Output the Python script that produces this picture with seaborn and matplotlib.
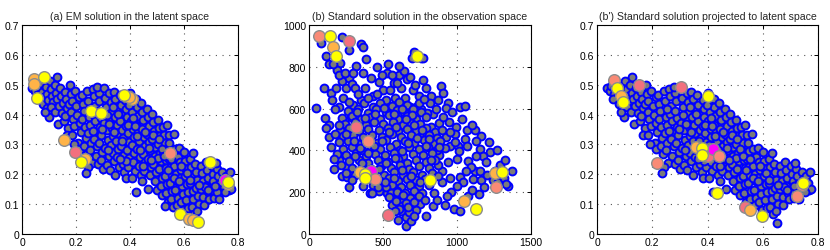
import matplotlib
matplotlib.use("Agg")
import matplotlib.pyplot as plt
import seaborn as sns
import pandas as pd

# ---------------- data ----------------
titles = ["(a) EM solution in the latent space",
          "(b) Standard solution in the observation space",
          "(b') Standard solution projected to latent space"]

latent_xticks = [0, 0.2, 0.4, 0.6, 0.8]
latent_xticklabels = ["0", "0.2", "0.4", "0.6", "0.8"]
latent_yticks = [0, 0.1, 0.2, 0.3, 0.4, 0.5, 0.6, 0.7]
latent_yticklabels = ["0", "0.1", "0.2", "0.3", "0.4", "0.5", "0.6", "0.7"]
obs_xticks = [0, 500, 1000, 1500]
obs_xticklabels = ["0", "500", "1000", "1500"]
obs_yticks = [0, 200, 400, 600, 800, 1000]
obs_yticklabels = ["0", "200", "400", "600", "800", "1000"]

# latent-space samples (shared by panels a and b')
latent_points = [
    (0.038, 0.488), (0.047, 0.478), (0.052, 0.497), (0.061, 0.468), (0.066, 0.489), (0.057, 0.451),
    (0.071, 0.505), (0.075, 0.476), (0.083, 0.459), (0.079, 0.437), (0.088, 0.491), (0.093, 0.470),
    (0.091, 0.423), (0.097, 0.448), (0.099, 0.391), (0.086, 0.409),
    (0.103, 0.514), (0.108, 0.485), (0.112, 0.462), (0.116, 0.441), (0.109, 0.426), (0.121, 0.498),
    (0.127, 0.471), (0.131, 0.452), (0.124, 0.410), (0.133, 0.367), (0.137, 0.428), (0.128, 0.527),
    (0.141, 0.489), (0.146, 0.463), (0.152, 0.440), (0.148, 0.405), (0.155, 0.380), (0.159, 0.476),
    (0.163, 0.452), (0.168, 0.421), (0.161, 0.395), (0.172, 0.354), (0.176, 0.498), (0.174, 0.437),
    (0.166, 0.332),
    (0.181, 0.468), (0.186, 0.445), (0.183, 0.410), (0.189, 0.386), (0.194, 0.361), (0.185, 0.333),
    (0.197, 0.478), (0.201, 0.429), (0.205, 0.398), (0.209, 0.305), (0.212, 0.458), (0.215, 0.372),
    (0.218, 0.342), (0.213, 0.285), (0.192, 0.300),
    (0.222, 0.466), (0.226, 0.437), (0.229, 0.413), (0.224, 0.384), (0.233, 0.357), (0.236, 0.322),
    (0.231, 0.296), (0.239, 0.268), (0.241, 0.478), (0.245, 0.445), (0.248, 0.393), (0.252, 0.365),
    (0.246, 0.338), (0.255, 0.304), (0.251, 0.281), (0.258, 0.238), (0.243, 0.226), (0.236, 0.205),
    (0.262, 0.486), (0.266, 0.462), (0.269, 0.430), (0.264, 0.401), (0.272, 0.378), (0.275, 0.345),
    (0.268, 0.318), (0.278, 0.294), (0.273, 0.262), (0.281, 0.233), (0.284, 0.471), (0.287, 0.447),
    (0.291, 0.389), (0.289, 0.357), (0.294, 0.331), (0.286, 0.306), (0.297, 0.276), (0.293, 0.248),
    (0.299, 0.218), (0.278, 0.491),
    (0.303, 0.489), (0.307, 0.456), (0.311, 0.427), (0.304, 0.371), (0.314, 0.348), (0.318, 0.315),
    (0.309, 0.289), (0.321, 0.262), (0.316, 0.231), (0.324, 0.473), (0.328, 0.441), (0.332, 0.408),
    (0.326, 0.381), (0.335, 0.356), (0.338, 0.328), (0.331, 0.298), (0.336, 0.272), (0.339, 0.244),
    (0.327, 0.213),
    (0.342, 0.477), (0.346, 0.452), (0.349, 0.421), (0.344, 0.393), (0.352, 0.366), (0.355, 0.339),
    (0.348, 0.311), (0.357, 0.284), (0.353, 0.258), (0.359, 0.226), (0.346, 0.199), (0.362, 0.466),
    (0.366, 0.431), (0.369, 0.403), (0.364, 0.378), (0.372, 0.349), (0.375, 0.323), (0.368, 0.296),
    (0.377, 0.266), (0.373, 0.236), (0.379, 0.209),
    (0.383, 0.448), (0.386, 0.418), (0.389, 0.391), (0.384, 0.362), (0.392, 0.338), (0.395, 0.309),
    (0.388, 0.283), (0.397, 0.253), (0.393, 0.224), (0.384, 0.186), (0.401, 0.471), (0.405, 0.437),
    (0.408, 0.408), (0.403, 0.378), (0.411, 0.352), (0.414, 0.326), (0.406, 0.297), (0.416, 0.272),
    (0.411, 0.241), (0.418, 0.212), (0.407, 0.188),
    (0.422, 0.453), (0.425, 0.424), (0.428, 0.396), (0.423, 0.366), (0.431, 0.341), (0.434, 0.311),
    (0.427, 0.286), (0.436, 0.258), (0.432, 0.229), (0.439, 0.198), (0.421, 0.139), (0.442, 0.438),
    (0.446, 0.409), (0.449, 0.381), (0.444, 0.352), (0.452, 0.325), (0.455, 0.296), (0.448, 0.268),
    (0.457, 0.241), (0.453, 0.212), (0.445, 0.176),
    (0.462, 0.418), (0.466, 0.391), (0.469, 0.362), (0.464, 0.336), (0.472, 0.308), (0.475, 0.281),
    (0.468, 0.252), (0.477, 0.226), (0.473, 0.196), (0.466, 0.152), (0.481, 0.402), (0.485, 0.374),
    (0.488, 0.346), (0.483, 0.318), (0.491, 0.291), (0.494, 0.262), (0.487, 0.236), (0.496, 0.207),
    (0.492, 0.178), (0.499, 0.148),
    (0.503, 0.383), (0.506, 0.356), (0.509, 0.327), (0.504, 0.301), (0.512, 0.272), (0.515, 0.246),
    (0.508, 0.217), (0.517, 0.188), (0.513, 0.161), (0.519, 0.132), (0.522, 0.358), (0.526, 0.331),
    (0.529, 0.304), (0.524, 0.277), (0.532, 0.249), (0.535, 0.222), (0.528, 0.194), (0.537, 0.166),
    (0.533, 0.138), (0.539, 0.108), (0.536, 0.364), (0.531, 0.093),
    (0.543, 0.331), (0.546, 0.306), (0.549, 0.278), (0.544, 0.251), (0.552, 0.226), (0.555, 0.197),
    (0.548, 0.171), (0.557, 0.143), (0.553, 0.116), (0.559, 0.089), (0.562, 0.334), (0.566, 0.284),
    (0.569, 0.256), (0.564, 0.229), (0.572, 0.202), (0.575, 0.176), (0.568, 0.149), (0.577, 0.121),
    (0.573, 0.097), (0.576, 0.258),
    (0.583, 0.288), (0.586, 0.241), (0.589, 0.214), (0.584, 0.188), (0.592, 0.161), (0.595, 0.134),
    (0.588, 0.108), (0.597, 0.082), (0.601, 0.273), (0.605, 0.246), (0.608, 0.219), (0.603, 0.193),
    (0.611, 0.166), (0.614, 0.139), (0.607, 0.113), (0.616, 0.087),
    (0.622, 0.251), (0.626, 0.224), (0.629, 0.198), (0.624, 0.171), (0.632, 0.144), (0.635, 0.118),
    (0.628, 0.092), (0.637, 0.068), (0.634, 0.272), (0.641, 0.234), (0.645, 0.207), (0.648, 0.181),
    (0.643, 0.154), (0.651, 0.127), (0.654, 0.101), (0.647, 0.076), (0.652, 0.036),
    (0.662, 0.228), (0.666, 0.203), (0.669, 0.176), (0.664, 0.151), (0.672, 0.124), (0.675, 0.097),
    (0.681, 0.241), (0.685, 0.214), (0.688, 0.188), (0.683, 0.161), (0.691, 0.136), (0.694, 0.117),
    (0.678, 0.158),
    (0.702, 0.228), (0.706, 0.201), (0.709, 0.176), (0.704, 0.149), (0.712, 0.121), (0.721, 0.219),
    (0.725, 0.193), (0.728, 0.166), (0.723, 0.141), (0.731, 0.118), (0.717, 0.238),
    (0.741, 0.208), (0.745, 0.183), (0.748, 0.158), (0.756, 0.195), (0.762, 0.171), (0.766, 0.149),
    (0.771, 0.208), (0.774, 0.152), (0.752, 0.141),
    (0.297, 0.352), (0.322, 0.368), (0.341, 0.342), (0.357, 0.402), (0.371, 0.312), (0.392, 0.366),
    (0.412, 0.388), (0.427, 0.327), (0.437, 0.283), (0.457, 0.343), (0.471, 0.287), (0.487, 0.331),
    (0.502, 0.256), (0.518, 0.286), (0.541, 0.213), (0.563, 0.188), (0.581, 0.176), (0.612, 0.203),
    (0.386, 0.246), (0.364, 0.251), (0.318, 0.281), (0.262, 0.346), (0.253, 0.418), (0.283, 0.413),
    (0.313, 0.398), (0.337, 0.424), (0.397, 0.431), (0.418, 0.361), (0.447, 0.229), (0.477, 0.248),
    (0.508, 0.318), (0.527, 0.262), (0.553, 0.252), (0.589, 0.229), (0.621, 0.182), (0.657, 0.165),
    (0.688, 0.149), (0.713, 0.162),
]

# observation-space samples (panel b)
obs_points = [
    (83, 912), (225, 944), (354, 909), (366, 896), (270, 880), (113, 853), (388, 837), (135, 812),
    (207, 820), (191, 785), (160, 815), (225, 732), (270, 745), (200, 760), (101, 697), (45, 601),
    (147, 673), (158, 641), (203, 609), (250, 700), (290, 720), (310, 700), (180, 700), (240, 770),
    (106, 554), (135, 522), (282, 561), (113, 507), (135, 466), (147, 415), (203, 354), (225, 279),
    (270, 226), (259, 271), (248, 319),
    (457, 800), (529, 769), (608, 761), (473, 729), (574, 721), (698, 841), (755, 841), (709, 872),
    (770, 841), (770, 737), (793, 700), (894, 708), (905, 673), (826, 662), (815, 625), (939, 625),
    (928, 605), (1018, 609), (1052, 614), (838, 573), (640, 780), (660, 740), (560, 760), (500, 690),
    (620, 700), (700, 690), (740, 660), (580, 650), (650, 650), (520, 640), (430, 660), (380, 700),
    (350, 640), (720, 610), (760, 600), (800, 580), (680, 610),
    (944, 537), (995, 513), (1070, 498), (1124, 498), (985, 478), (928, 463), (1052, 455), (951, 423),
    (1007, 423), (1153, 407), (1221, 391), (1176, 375), (1131, 375), (1198, 343), (1002, 359),
    (1074, 351), (1120, 303), (1153, 303), (1108, 263), (1164, 258), (1097, 322), (1345, 228),
    (1018, 271), (1074, 183), (980, 120), (1018, 109), (838, 136), (793, 88), (1290, 330), (1240, 260),
    (1260, 300), (1200, 280), (1060, 300), (900, 300), (950, 270), (960, 200), (900, 250), (870, 330),
    (880, 380), (1040, 250), (1150, 190), (1280, 250), (1320, 270),
    (300, 615), (372, 628), (431, 610), (482, 625), (561, 612), (607, 630), (662, 618),
    (262, 588), (331, 596), (398, 580), (452, 598), (518, 584), (592, 592), (641, 582), (703, 598),
    (758, 585), (222, 555), (290, 566), (352, 548), (421, 562), (478, 552), (541, 568), (602, 552),
    (660, 566), (722, 550), (790, 562), (242, 528), (308, 536), (382, 520), (441, 534), (502, 526),
    (568, 538), (632, 522), (688, 532), (751, 524), (822, 512), (878, 530), (212, 498), (272, 506),
    (338, 492), (402, 504), (471, 496), (532, 508), (598, 492), (661, 502), (721, 494), (788, 506),
    (851, 490), (902, 500), (232, 468), (298, 476), (362, 462), (428, 474), (492, 466), (558, 478),
    (622, 462), (688, 474), (752, 466), (812, 476), (868, 460), (202, 440), (262, 446), (328, 432),
    (392, 444), (462, 436), (522, 448), (588, 432), (652, 444), (712, 436), (778, 448), (842, 432),
    (888, 446), (228, 408), (292, 416), (358, 402), (422, 414), (482, 406), (548, 418), (612, 402),
    (678, 414), (742, 406), (802, 418), (862, 402), (918, 412), (252, 378), (318, 386), (382, 372),
    (448, 384), (512, 376), (572, 388), (638, 372), (702, 384), (768, 376), (832, 386), (272, 348),
    (338, 356), (402, 342), (468, 354), (532, 346), (598, 358), (662, 342), (722, 354), (788, 346),
    (852, 356), (292, 318), (358, 326), (422, 312), (488, 324), (552, 316), (612, 328), (678, 312),
    (742, 324), (808, 316), (252, 292), (312, 284), (442, 296), (508, 284), (572, 296), (638, 284),
    (702, 296), (762, 284), (828, 292), (292, 258), (412, 262), (478, 254), (542, 266), (602, 252),
    (662, 264), (722, 256), (782, 262), (362, 228), (432, 234), (498, 226), (558, 236), (622, 224),
    (682, 234), (742, 228), (412, 198), (472, 204), (528, 196), (592, 206), (648, 194), (708, 204),
    (762, 196), (562, 170), (618, 164), (682, 172), (722, 160), (562, 140), (612, 134), (658, 146),
    (702, 138), (752, 142), (622, 110), (682, 104), (722, 116), (653, 80), (653, 40), (676, 104),
    (608, 120), (428, 195), (518, 223), (552, 195), (597, 200),
    (333, 672), (398, 652), (462, 668), (547, 690), (592, 722), (683, 752), (715, 715), (611, 806),
    (537, 812), (491, 760), (421, 745), (362, 771), (320, 805), (295, 770), (228, 650), (176, 598),
    (268, 633), (322, 583), (377, 555), (446, 575), (507, 604), (573, 575), (629, 598), (697, 568),
    (743, 625), (779, 644), (855, 598), (871, 640), (906, 560), (969, 582), (1036, 548), (1101, 520),
    (1161, 470), (1214, 440), (1270, 400), (1322, 352), (1370, 300), (1330, 240), (1185, 225),
    (1102, 210), (1001, 230), (942, 345), (1012, 395), (1068, 420), (1129, 445), (985, 440),
    (956, 490), (876, 417), (812, 455), (765, 499), (711, 521), (654, 548), (587, 514), (539, 486),
    (491, 446), (441, 422), (398, 388), (345, 410), (301, 445), (252, 480), (205, 520), (174, 480),
    (186, 385), (219, 330), (172, 310), (166, 360), (311, 372), (359, 338), (413, 285), (470, 310),
    (522, 338), (583, 364), (631, 398), (672, 436), (729, 457), (790, 420), (823, 356), (872, 277),
    (812, 233), (747, 250), (691, 276), (628, 306), (571, 267), (514, 251), (469, 226), (538, 179),
    (591, 156), (637, 188), (667, 129), (707, 152), (741, 181), (781, 164), (579, 108), (601, 66),
    (687, 61), (712, 88), (842, 196), (866, 165), (919, 140), (933, 180),
]

# highlighted samples: (x, y, colour-class)
hl_a = [
    (0.043, 0.519, "O"), (0.043, 0.502, "O"), (0.080, 0.525, "Y"), (0.055, 0.454, "Y"),
    (0.154, 0.315, "O"), (0.197, 0.276, "P"), (0.234, 0.251, "O"), (0.219, 0.240, "Y"),
    (0.255, 0.411, "Y"), (0.293, 0.405, "Y"), (0.406, 0.452, "O"), (0.395, 0.458, "O"),
    (0.379, 0.467, "Y"), (0.548, 0.271, "S"), (0.698, 0.242, "Y"), (0.750, 0.181, "M"),
    (0.762, 0.168, "O"), (0.764, 0.174, "Y"), (0.585, 0.067, "Y"), (0.618, 0.050, "O"),
    (0.632, 0.048, "O"), (0.652, 0.041, "Y"),
]
hl_b = [
    (65, 949, "S"), (140, 946, "Y"), (271, 925, "P"), (163, 893, "O"), (181, 853, "Y"),
    (727, 850, "Y"), (316, 510, "P"), (400, 443, "S"), (420, 300, "M"), (343, 295, "O"),
    (445, 263, "S"), (377, 287, "Y"), (377, 266, "Y"), (818, 258, "Y"), (535, 91, "P"),
    (1044, 156, "O"), (1129, 120, "Y"), (1258, 290, "O"), (1265, 226, "S"), (1303, 298, "Y"),
]
hl_c = [
    (0.062, 0.516, "S"), (0.074, 0.488, "Y"), (0.088, 0.461, "O"), (0.094, 0.441, "Y"),
    (0.152, 0.500, "P"), (0.303, 0.491, "P"), (0.400, 0.463, "Y"), (0.360, 0.290, "O"),
    (0.400, 0.260, "P"), (0.420, 0.285, "M"), (0.442, 0.260, "S"), (0.380, 0.287, "Y"),
    (0.381, 0.266, "Y"), (0.217, 0.237, "S"), (0.434, 0.137, "Y"), (0.535, 0.089, "P"),
    (0.554, 0.081, "O"), (0.597, 0.061, "Y"), (0.724, 0.128, "S"), (0.742, 0.165, "S"),
    (0.746, 0.171, "Y"),
]

palette = {"Y": "#FFFF00", "O": "#FFB347", "S": "#F98A76", "P": "#F2707E", "M": "#FF00FF"}

# ---------------- plotting ----------------
sns.set_theme(style="white")
plt.rcParams["font.family"] = ["Liberation Sans", "DejaVu Sans"]

fig = plt.figure(figsize=(8.30, 2.51), dpi=100)
rects = [
    (22 / 830, 16 / 251, 216 / 830, 209 / 251),
    (309 / 830, 16 / 251, 222 / 830, 209 / 251),
    (597 / 830, 16 / 251, 221 / 830, 209 / 251),
]

panels = [
    (latent_points, hl_a, (0, 0.8), (0, 0.7), latent_xticks, latent_xticklabels, latent_yticks, latent_yticklabels),
    (obs_points, hl_b, (0, 1500), (0, 1000), obs_xticks, obs_xticklabels, obs_yticks, obs_yticklabels),
    (latent_points, hl_c, (0, 0.8), (0, 0.7), latent_xticks, latent_xticklabels, latent_yticks, latent_yticklabels),
]

for i, (pts, hl, xl, yl, xt, xtl, yt, ytl) in enumerate(panels):
    ax = fig.add_axes(rects[i])
    base = pd.DataFrame(pts, columns=["x", "y"])
    high = pd.DataFrame(hl, columns=["x", "y", "c"])
    sns.scatterplot(data=base, x="x", y="y", ax=ax, color="#7A7A7A",
                    edgecolor="#0000FF", linewidth=1.4, s=32, zorder=3)
    for _, r in high.iterrows():
        sns.scatterplot(x=[r["x"]], y=[r["y"]], ax=ax, color=palette[r["c"]],
                        edgecolor="#8C8C8C", linewidth=1.0, s=70, zorder=4)
    ax.set_xlim(*xl)
    ax.set_ylim(*yl)
    ax.set_xticks(xt)
    ax.set_xticklabels(xtl)
    ax.set_yticks(yt)
    ax.set_yticklabels(ytl)
    ax.set_xlabel("")
    ax.set_ylabel("")
    ax.grid(True, color="#555555", linestyle=(0, (1, 5)), linewidth=0.8, zorder=0)
    ax.set_axisbelow(True)
    ax.tick_params(direction="in", length=3, width=0.7, top=True, right=True,
                   labelsize=7.5, colors="black", pad=2)
    for sp in ax.spines.values():
        sp.set_color("black")
        sp.set_linewidth(0.8)
    ax.set_title(titles[i], fontsize=7.6, pad=4)

fig.savefig("out.png", dpi=100)
